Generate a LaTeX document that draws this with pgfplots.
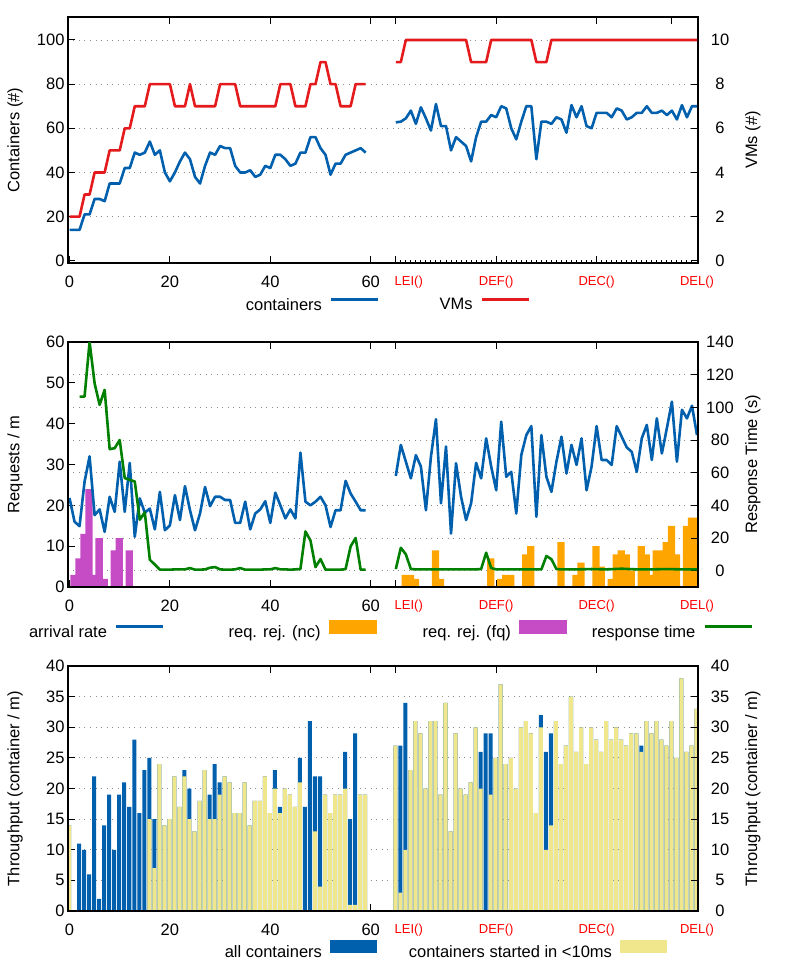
\documentclass[border=0pt]{standalone}
\usepackage{fontspec}
\setmainfont{Liberation Sans}
\usepackage{pgfplots}
\pgfplotsset{compat=1.18}
\definecolor{cblue}{HTML}{0060AD}
\definecolor{cred}{HTML}{E41A1C}
\definecolor{cgreen}{HTML}{008000}
\definecolor{corange}{HTML}{FFA500}
\definecolor{cmag}{HTML}{C54CC5}
\definecolor{ckhaki}{HTML}{F0E68C}
\newcommand{\fs}{\fontsize{16.5}{19}\selectfont}
\newcommand{\rl}[1]{\textcolor{red}{\fontsize{13}{15}\selectfont #1}}
\pgfplotsset{
  common/.style={
    scale only axis, width=630pt,
    xmin=-0.3, xmax=125.2,
    /pgf/number format/assume math mode=true,
    tick label style={font=\fs},
    every axis label/.append style={font=\fs},
    axis line style={line width=1.2pt},
    every tick/.style={black, line width=1pt},
    major tick length=7pt, minor tick length=3.5pt,
    tick align=inside,
    grid style={black!45, line width=0.9pt, dash pattern=on 0.9pt off 4.6pt},
    xticklabel style={yshift=-9.5pt},
    legend plot pos=right,
    legend style={draw=none, fill=none, inner sep=0pt, outer sep=0pt, font=\fs,
      column sep=8pt, nodes={inner xsep=0pt, inner ysep=1pt}, anchor=west},
  },
  leftax/.style={common, xtick pos=left, ytick pos=left,
    xtick={0,20,40,60,65,85,105,125},
    xticklabels={0,20,40,60,\rl{\hspace*{26pt}LEI()},\rl{DEF()},\rl{DEC()},\rl{DEL()}},
    every axis y label/.style={at={(axis description cs:-0.084,0.5)}, rotate=90, anchor=center},
  },
  rightax/.style={common, xtick pos=right, ytick pos=right, xticklabels={},
    yticklabel style={anchor=center, xshift=22pt},
    every axis y label/.style={at={(axis description cs:1.087,0.5)}, rotate=90, anchor=center},
  },
  lline/.style={line width=2.6pt, line join=round},
}
\begin{document}
\begin{tikzpicture}
% ================= Panel 1 =================
\begin{axis}[leftax, at={(68pt,-263pt)}, anchor=south west, height=246pt,
  ymin=-1, ymax=110.4, ytick={20,40,60,80,100}, ymajorgrids,
  extra y ticks={0}, extra y tick style={grid=none},
  minor xtick={66,...,124},
  ylabel={Containers (\#)}]
\addplot[cblue, lline] coordinates {(0,14)(1,14)(2,14)(3,21)(4,21)(5,28)(6,28)(7,27)(8,35)(9,35)(10,35)(11,42)(12,42)(13,49)(14,48)(15,49)(16,54)(17,48)(18,50)(19,40)(20,36)(21,40)(22,45)(23,49)(24,46)(25,38)(26,35)(27,43)(28,49)(29,48)(30,52)(31,51)(32,51)(33,43)(34,40)(35,40)(36,41)(37,38)(38,39)(39,43)(40,42)(41,48)(42,48)(43,46)(44,43)(45,44)(46,49)(47,49)(48,56)(49,56)(50,51)(51,48)(52,39)(53,44)(54,44)(55,48)(56,49)(57,50)(58,51)(59,49)};
\addplot[cblue, lline] coordinates {(65,62.7)(66,63)(67,64.5)(68,68)(69,62)(70,69.5)(71,64.5)(72,59)(73,71)(74,61)(75,61)(76,50)(77,56)(78,54)(79,52)(80,45)(81,56)(82,63)(83,63)(84,66)(85,65)(86,70)(87,69)(88,60)(89,55)(90,63)(91,70)(92,70)(93,46)(94,63)(95,63)(96,62)(97,65)(98,64)(99,58)(100,70.5)(101,65)(102,70)(103,61)(104,60)(105,67)(106,67)(107,67)(108,65)(109,69)(110,68)(111,64)(112,65)(113,67)(114,67)(115,70)(116,67)(117,67)(118,68)(119,66)(120,68)(121,64)(122,70.5)(123,65)(124,70)(125,70)};
\end{axis}
\begin{axis}[rightax, at={(68pt,-263pt)}, anchor=south west, height=246pt,
  ymin=-0.1, ymax=11.04, ytick={0,2,4,6,8,10},
  xtick={20,40,60,65,85,105,120},
  ylabel={VMs (\#)},
  legend columns=2,
  legend style={at={(axis description cs:0.2762,-0.1707)}}]
\addlegendimage{legend image code/.code={\draw[cblue,line width=2.6pt] (0pt,5.5pt) -- (47pt,5.5pt);}}
\addlegendentry{\makebox[80pt][r]{containers}}
\addplot[cred, lline, legend image code/.code={\draw[cred,line width=2.6pt] (0pt,5.5pt) -- (47pt,5.5pt);}] coordinates {(0,2)(1,2)(2,2)(3,3)(4,3)(5,4)(6,4)(7,4)(8,5)(9,5)(10,5)(11,6)(12,6)(13,7)(14,7)(15,7)(16,8)(17,8)(18,8)(19,8)(20,8)(21,7)(22,7)(23,7)(24,8)(25,7)(26,7)(27,7)(28,7)(29,7)(30,8)(31,8)(32,8)(33,8)(34,7)(35,7)(36,7)(37,7)(38,7)(39,7)(40,7)(41,7)(42,8)(43,8)(44,8)(45,7)(46,7)(47,7)(48,8)(49,8)(50,9)(51,9)(52,8)(53,8)(54,7)(55,7)(56,7)(57,8)(58,8)(59,8)};
\addlegendentry{\makebox[85pt][r]{VMs}}
\addplot[cred, lline, forget plot] coordinates {(65,9)(66,9)(67,10)(68,10)(69,10)(70,10)(71,10)(72,10)(73,10)(74,10)(75,10)(76,10)(77,10)(78,10)(79,10)(80,9)(81,9)(82,9)(83,9)(84,10)(85,10)(86,10)(87,10)(88,10)(89,10)(90,10)(91,10)(92,10)(93,9)(94,9)(95,9)(96,10)(97,10)(98,10)(99,10)(100,10)(105,10)(110,10)(115,10)(120,10)(125,10)};
\end{axis}
% ================= Panel 2 =================
\begin{axis}[leftax, at={(68pt,-587pt)}, anchor=south west, height=245pt,
  ymin=0, ymax=60, ytick={0,10,20,30,40,50,60},
  extra y ticks={4,12,20,28,36,44,52}, extra y tick labels={},
  extra y tick style={grid=major, major tick length=0pt},
  ylabel={Requests / m}]
\addplot[ybar, bar shift=0pt, bar width=1.45, fill=cmag, draw=none] coordinates {(0.9,3)(1.9,7)(2.9,13)(3.9,24)(4.9,3)(5.9,12)(6.9,2)(8.9,9)(9.9,12)(11.9,9)};
\addplot[ybar, bar shift=0pt, bar width=1.45, fill=corange, draw=none] coordinates {(66.9,3)(67.9,3)(68.9,2)(72.9,9)(73.9,2)(83.9,7)(85.9,2)(86.9,3)(87.9,3)(90.9,8)(91.9,10)(97.9,11)(100.9,3)(101.9,6)(104.9,10)(105.9,5)(107.9,2)(108.9,8)(109.9,9)(110.9,8)(111.9,4)(113.9,10)(114.9,8)(115.9,3)(116.9,9)(117.9,9)(118.9,11)(119.9,15)(120.9,8)(122.9,15)(123.9,17)(124.9,17)};
\addplot[cblue, lline] coordinates {(0,21.8)(1,16)(2,14.9)(3,25.8)(4,32)(5,17.6)(6,19)(7,13.5)(8,22.1)(9,18.4)(10,30.7)(11,18.4)(12,30.4)(13,12.3)(14,21.7)(15,18.2)(16,19.2)(17,14.1)(18,23.3)(19,13.9)(20,15.1)(21,22.5)(22,16.4)(23,24.7)(24,18.8)(25,13.9)(26,18)(27,24.5)(28,19.8)(29,22.1)(30,22.1)(31,21.3)(32,21.3)(33,15.7)(34,15.7)(35,20.9)(36,14.1)(37,18)(38,19)(39,21)(40,15.7)(41,23.1)(42,20)(43,16.8)(44,19)(45,16.8)(46,32.9)(47,20.9)(48,20)(49,20.9)(50,22.1)(51,20)(52,14.7)(53,18.8)(54,18.8)(55,26)(56,22.9)(57,20.9)(58,18.8)(59,18.8)};
\addplot[cblue, lline] coordinates {(65,27.2)(66,34.8)(67,30.7)(68,26.6)(69,32.3)(70,29.5)(71,18.8)(72,31.9)(73,41.1)(74,20.5)(75,34.4)(76,13.1)(77,30.3)(78,22.1)(79,16.4)(80,20.5)(81,30.4)(82,26.6)(83,36.4)(84,29.5)(85,23.7)(86,40.5)(87,27)(88,28.2)(89,18)(90,32.3)(91,37.2)(92,39.4)(93,17.2)(94,37.2)(95,27)(96,23.3)(97,30.7)(98,36.8)(99,27.8)(100,34.8)(101,29.9)(102,36.4)(103,23.7)(104,29.5)(105,39.4)(106,31.1)(107,31.1)(108,29.9)(109,39.4)(110,36.8)(111,34.2)(112,33.1)(113,28.2)(114,36.4)(115,39.7)(116,31.1)(117,41.3)(118,32.7)(119,38.9)(120,45.4)(121,30.7)(122,43.4)(123,41.3)(124,44.4)(125,37.2)};
\end{axis}
\begin{axis}[rightax, at={(68pt,-587pt)}, anchor=south west, height=245pt,
  ymin=-10, ymax=140, ytick={0,20,40,60,80,100,120,140},
  xtick={20,40,60,65,85,105,125},
  ylabel={Response Time (s)},
  legend columns=4,
  legend style={at={(axis description cs:-0.0968,-0.1755)}}]
\addlegendimage{legend image code/.code={\draw[cblue,line width=2.6pt] (0pt,5.5pt) -- (47pt,5.5pt);}}
\addlegendentry{\makebox[100pt][r]{arrival rate}}
\addlegendimage{legend image code/.code={\fill[corange] (0pt,-1pt) rectangle (47pt,12pt);}}
\addlegendentry{\makebox[148pt][r]{req. rej. (nc)}}
\addlegendimage{legend image code/.code={\fill[cmag] (0pt,-1pt) rectangle (47pt,12pt);}}
\addlegendentry{\makebox[127pt][r]{req. rej. (fq)}}
\addplot[cgreen, lline, legend image code/.code={\draw[cgreen,line width=2.6pt] (0pt,5.5pt) -- (47pt,5.5pt);}] coordinates {(2,106.6)(3,106.6)(4,140)(5,114.7)(6,101.5)(7,110.7)(8,74.4)(9,75)(10,80)(11,56.7)(12,55.6)(13,54.6)(14,31.2)(15,35.7)(16,6.7)(17,3.7)(18,0.6)(19,0.6)(20,0.6)(21,0.8)(22,0.8)(23,0.8)(24,1.6)(25,0.6)(26,0.6)(27,0.8)(28,1.8)(29,2.2)(30,0.8)(31,0.6)(32,0.6)(33,0.8)(34,1.6)(35,0.6)(36,0.6)(37,0.6)(38,0.6)(39,0.8)(40,0.8)(41,1.6)(42,0.8)(43,0.8)(44,0.6)(45,0.8)(46,1)(47,24)(48,18.5)(49,2.2)(50,7.1)(51,0.6)(52,0.6)(53,0.6)(54,0.6)(55,1)(56,14.9)(57,20)(58,0.6)(59,0.6)};
\addlegendentry{\makebox[121pt][r]{response time}}
\addplot[cgreen, lline, forget plot] coordinates {(65,1)(66,14)(67,10)(68,1)(69,0.8)(72,0.8)(75,0.8)(78,0.8)(80,0.8)(81,0.8)(82,1)(83,11)(84,1.6)(85,0.8)(88,0.8)(91,0.8)(94,0.8)(95,9)(96,7)(97,1)(98,0.8)(101,0.8)(104,1)(107,0.8)(110,1.2)(113,0.8)(116,0.8)(119,1)(122,0.8)(125,0.8)};
\end{axis}
% ================= Panel 3 =================
\begin{axis}[leftax, at={(68pt,-911pt)}, anchor=south west, height=245pt,
  ymin=0, ymax=40, ytick={0,5,10,15,20,25,30,35,40}, ymajorgrids,
  ylabel={Throughput (container / m)},
  legend columns=2,
  legend style={at={(axis description cs:0.2365,-0.159)}}]
\addplot[ybar, bar shift=0pt, bar width=0.8, fill=cblue, draw=none,
  legend image code/.code={\fill[cblue] (0pt,-1pt) rectangle (47pt,12pt);}] coordinates {(-0.1,14)(0.9,0)(1.9,11)(2.9,10)(3.9,6)(4.9,22)(5.9,2)(6.9,14)(7.9,19)(8.9,10)(9.9,19)(10.9,21)(11.9,17)(12.9,28)(13.9,16)(14.9,23)(15.9,25)(16.9,15)(17.9,24)(18.9,14)(19.9,15)(20.9,22)(21.9,17)(22.9,23)(23.9,20)(24.9,13)(25.9,18)(26.9,23)(27.9,19)(28.9,24)(29.9,21)(30.9,22)(31.9,21)(32.9,16)(33.9,16)(34.9,21)(35.9,14)(36.9,18)(37.9,18)(38.9,22)(39.9,16)(40.9,23)(41.9,17)(42.9,20)(43.9,19)(44.9,17)(45.9,25)(46.9,17)(47.9,31)(48.9,22)(49.9,22)(50.9,19)(51.9,16)(52.9,19)(53.9,19)(54.9,26)(55.9,15)(56.9,29)(57.9,19)(58.9,19)};
\addlegendentry{\makebox[105pt][r]{all containers}}
\addplot[ybar, bar shift=0pt, bar width=0.8, fill=cblue, draw=none, forget plot] coordinates {(64.9,27)(65.9,27)(66.9,34)(67.9,23)(68.9,31)(69.9,29)(70.9,20)(71.9,31)(72.9,31)(73.9,19)(74.9,34)(75.9,13)(76.9,29)(77.9,20)(78.9,19)(79.9,21)(80.9,30)(81.9,26)(82.9,29)(83.9,29)(84.9,25)(85.9,37)(86.9,24)(87.9,25)(88.9,20)(89.9,30)(90.9,31)(91.9,29)(92.9,16)(93.9,32)(94.9,26)(95.9,29)(96.9,31)(97.9,24)(98.9,27)(99.9,35)(100.9,26)(101.9,30)(102.9,24)(103.9,30)(104.9,28)(105.9,26)(106.9,31)(107.9,28)(108.9,30)(109.9,28)(110.9,27)(111.9,29)(112.9,29)(113.9,27)(114.9,31)(115.9,29)(116.9,31)(117.9,28)(118.9,27)(119.9,31)(120.9,25)(121.9,38)(122.9,26)(123.9,27)(124.9,33)};
\addplot[ybar, bar shift=0pt, bar width=0.8, fill=ckhaki, draw=none,
  legend image code/.code={\fill[ckhaki] (0pt,-1pt) rectangle (47pt,12pt);}] coordinates {(-0.1,14)(0.9,0)(1.9,0)(2.9,0)(3.9,0)(4.9,0)(5.9,0)(6.9,0)(7.9,0)(8.9,0)(9.9,0)(10.9,0)(11.9,0)(12.9,0)(13.9,0)(14.9,0)(15.9,15)(16.9,7)(17.9,24)(18.9,14)(19.9,15)(20.9,22)(21.9,17)(22.9,22)(23.9,15)(24.9,13)(25.9,18)(26.9,23)(27.9,15)(28.9,15)(29.9,19)(30.9,22)(31.9,21)(32.9,16)(33.9,16)(34.9,21)(35.9,14)(36.9,18)(37.9,18)(38.9,22)(39.9,16)(40.9,20)(41.9,16)(42.9,20)(43.9,19)(44.9,17)(45.9,21)(46.9,0)(47.9,0)(48.9,13)(49.9,4)(50.9,19)(51.9,16)(52.9,19)(53.9,19)(54.9,20)(55.9,1)(56.9,1)(57.9,19)(58.9,19)};
\addlegendentry{\makebox[227pt][r]{containers started in <10ms}}
\addplot[ybar, bar shift=0pt, bar width=0.8, fill=ckhaki, draw=none, forget plot] coordinates {(64.9,27)(65.9,3)(66.9,10)(67.9,23)(68.9,31)(69.9,29)(70.9,20)(71.9,31)(72.9,31)(73.9,19)(74.9,34)(75.9,13)(76.9,29)(77.9,20)(78.9,19)(79.9,21)(80.9,30)(81.9,20)(82.9,0)(83.9,19)(84.9,25)(85.9,37)(86.9,24)(87.9,25)(88.9,20)(89.9,30)(90.9,31)(91.9,29)(92.9,16)(93.9,30)(94.9,10)(95.9,14)(96.9,31)(97.9,24)(98.9,27)(99.9,35)(100.9,26)(101.9,30)(102.9,24)(103.9,30)(104.9,28)(105.9,26)(106.9,31)(107.9,28)(108.9,30)(109.9,28)(110.9,27)(111.9,29)(112.9,29)(113.9,26)(114.9,31)(115.9,29)(116.9,31)(117.9,28)(118.9,27)(119.9,31)(120.9,25)(121.9,38)(122.9,26)(123.9,27)(124.9,33)};
\end{axis}
\begin{axis}[rightax, at={(68pt,-911pt)}, anchor=south west, height=245pt,
  ymin=0, ymax=40, ytick={0,5,10,15,20,25,30,35,40},
  xtick={20,40,60,65,85,105,125},
  ylabel={Throughput (container / m)}]
\addplot[draw=none, forget plot] coordinates {(0,0)};
\end{axis}
\pgfresetboundingbox
\path[use as bounding box] (0pt,0pt) rectangle (789pt,-975pt);
\end{tikzpicture}
\end{document}
